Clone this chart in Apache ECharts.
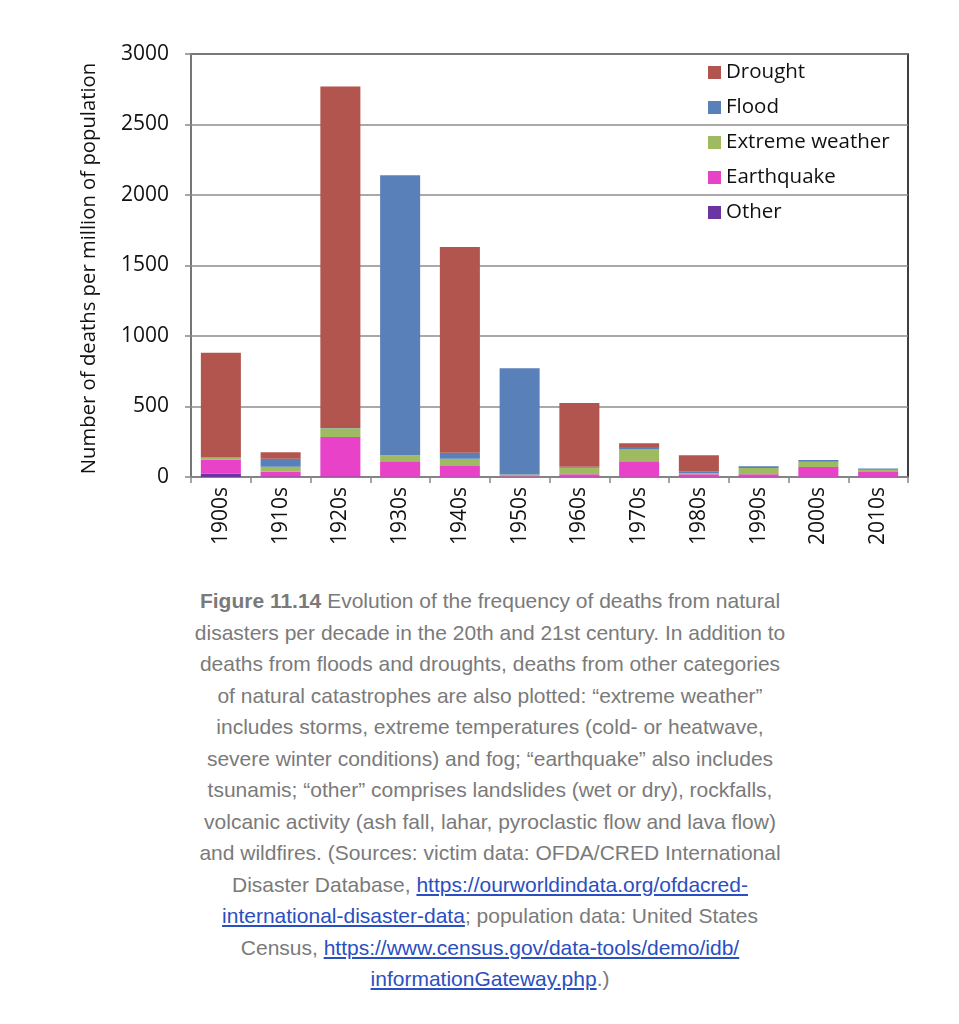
<!DOCTYPE html>
<html>
<head>
<meta charset="utf-8">
<script src="https://cdn.jsdelivr.net/npm/echarts@6/dist/echarts.min.js"></script>
<style>
  html, body { margin: 0; padding: 0; background: #fff; }
  #chart { position: absolute; left: 0; top: 0; width: 959px; height: 570px; }
  #caption {
    position: absolute; left: 120px; top: 585px; width: 740px;
    font-family: "Liberation Sans", Arial, sans-serif; font-size: 21px;
    line-height: 31.5px; color: #7a7a7a; text-align: center;
  }
  #caption a { color: #2a4fc0; text-decoration: underline; }
</style>
</head>
<body>
<div id="chart"></div>
<div id="caption"><b>Figure 11.14</b> Evolution of the frequency of deaths from natural<br>disasters per decade in the 20th and 21st century. In addition to<br>deaths from floods and droughts, deaths from other categories<br>of natural catastrophes are also plotted: “extreme weather”<br>includes storms, extreme temperatures (cold- or heatwave,<br>severe winter conditions) and fog; “earthquake” also includes<br>tsunamis; “other” comprises landslides (wet or dry), rockfalls,<br>volcanic activity (ash fall, lahar, pyroclastic flow and lava flow)<br>and wildfires. (Sources: victim data: OFDA/CRED International<br>Disaster Database, <a>https://ourworldindata.org/ofdacred-</a><br><a>international-disaster-data</a>; population data: United States<br>Census, <a>https://www.census.gov/data-tools/demo/idb/</a><br><a>informationGateway.php</a>.)</div>
<script>
const decades = ['1900s','1910s','1920s','1930s','1940s','1950s','1960s','1970s','1980s','1990s','2000s','2010s'];
const other      = [25, 3, 3, 1, 1, 1, 1, 1, 1, 1, 1, 1];
const earthquake = [100, 35, 280, 110, 77, 4, 18, 110, 19, 19, 70, 34];
const extreme    = [12, 35, 62, 43, 52, 12, 47, 88, 6, 44, 38, 17];
const flood      = [3, 57, 3, 1986, 42, 754, 7, 14, 14, 12, 12, 9];
const drought    = [742, 45, 2422, 0, 1459, 0, 452, 26, 114, 0, 0, 0];
const yTicks = [0, 500, 1000, 1500, 2000, 2500, 3000];

const chart = echarts.init(document.getElementById('chart'));
const font = '"Open Sans", sans-serif';
function s(name, data, color) {
  return { name, type: 'bar', stack: 'total', data, barCategoryGap: '33%',
    itemStyle: { color }, emphasis: { disabled: true } };
}
chart.setOption({
  animation: false,
  textStyle: { fontFamily: font },
  grid: { left: 191, right: 51, top: 54, bottom: 93, show: true, borderColor: '#000', borderWidth: 1.5, backgroundColor: 'transparent' },
  legend: {
    orient: 'vertical', left: 703, top: 56, itemGap: 12,
    itemWidth: 13, itemHeight: 13, icon: 'rect',
    textStyle: { fontSize: 20.5, color: '#111', fontFamily: font, lineHeight: 23 },
    data: ['Drought','Flood','Extreme weather','Earthquake','Other']
  },
  xAxis: {
    type: 'category', data: decades,
    axisLine: { lineStyle: { color: '#888', width: 1.5 } },
    axisTick: { show: true, length: 6, lineStyle: { color: '#888', width: 1.5 } },
    axisLabel: { rotate: 90, fontSize: 21, color: '#111', margin: 10, fontFamily: font }
  },
  yAxis: {
    type: 'value', min: 0, max: 3000, interval: 500,
    name: 'Number of deaths per million of population', nameLocation: 'middle', nameGap: 92,
    nameTextStyle: { fontSize: 20.3, color: '#111', fontFamily: font, padding: [0, 6, 0, 0] },
    axisLine: { show: true, lineStyle: { color: '#888', width: 1.5 } },
    axisTick: { show: true, length: 6, lineStyle: { color: '#888', width: 1.5 } },
    axisLabel: { fontSize: 21, color: '#111', margin: 22, fontFamily: font,
      formatter: v => yTicks.includes(v) ? String(v) : '' },
    splitLine: { lineStyle: { color: '#8c8c8c', width: 1.5 } }
  },
  series: [
    s('Other', other, '#6a35a0'),
    s('Earthquake', earthquake, '#e843c8'),
    s('Extreme weather', extreme, '#9fbb62'),
    s('Flood', flood, '#5a80b9'),
    s('Drought', drought, '#b3554f')
  ]
});
</script>
</body>
</html>
